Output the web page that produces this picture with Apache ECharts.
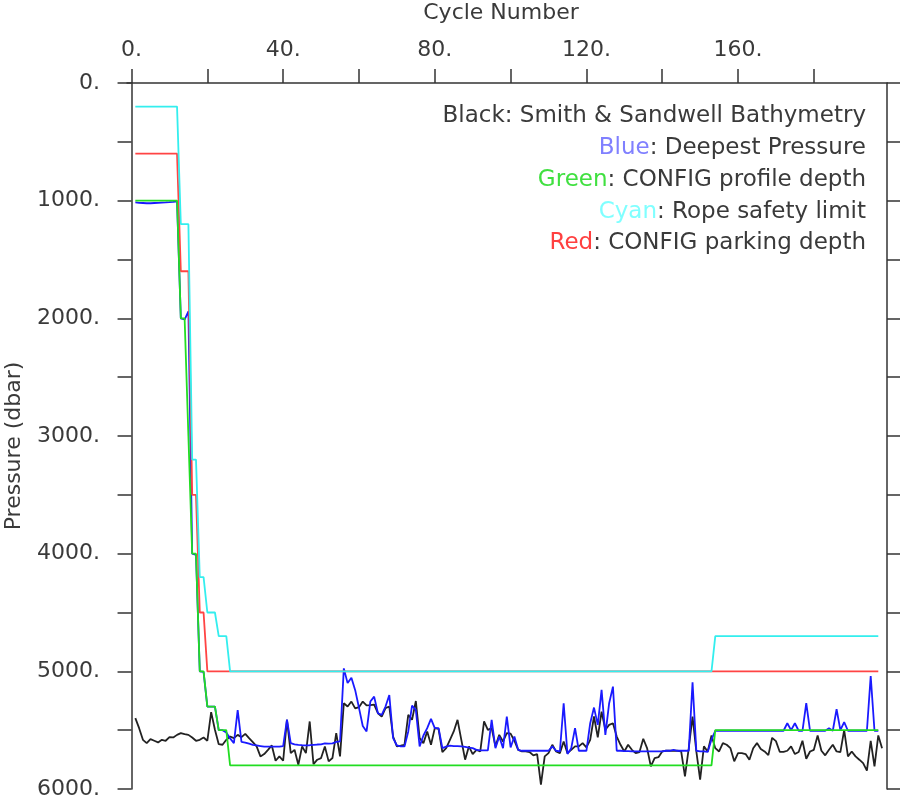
<!DOCTYPE html>
<html><head><meta charset="utf-8">
<script src="https://cdn.jsdelivr.net/npm/echarts@6/dist/echarts.min.js"></script>
<style>html,body{margin:0;padding:0;background:#fff}#c{width:900px;height:800px}</style>
</head><body><div id="c"></div><script>
// Tick labels
const xTickValues = [0, 20, 40, 60, 80, 100, 120, 140, 160, 180];
const xLabelValues = [0, 40, 80, 120, 160];
const yTickValues = [0, 500, 1000, 1500, 2000, 2500, 3000, 3500, 4000, 4500, 5000, 5500, 6000];
const yLabelValues = [0, 1000, 2000, 3000, 4000, 5000, 6000];

// Deepest pressure (blue), cycles 1..197
const bluePressure = [
 1015,1018,1020,1022,1022,1020,1018,1016,1015,1013,1010,1005,
 2000,2010,1940,4000,4010,5000,5005,5300,5300,5300,5500,5500,5520,
 5570,5610,5330,5600,5605,5615,5625,5630,5635,5640,5640,5640,5640,5640,5635,
 5410,5610,5620,5625,5628,5630,5628,5625,5622,5620,5612,5615,5612,5600,5596,
 4975,5100,5055,5160,5310,5465,5511,5257,5215,5356,5370,5299,5201,5568,5630,
 5638,5638,5511,5291,5328,5638,5545,5483,5404,5483,5483,5653,5640,5632,5635,
 5635,5638,5642,5648,5653,5667,5672,5672,5672,5412,5653,5554,5653,5384,5647,
 5554,5667,5675,5675,5675,5675,5675,5675,5675,5675,5638,5675,5681,5271,5703,
 5653,5483,5675,5675,5675,5441,5308,5455,5158,5540,5271,5130,5675,5675,5678,
 5678,5680,5680,5681,5681,5681,5681,5681,5681,5681,5675,5675,5667,5675,5675,
 5675,5675,5093,5675,5681,5681,5685,5580,5505,5505,5505,5505,5505,5505,5505,
 5505,5505,5505,5505,5505,5505,5505,5505,5505,5505,5505,5505,5441,5500,5441,
 5505,5505,5271,5505,5505,5505,5505,5505,5483,5505,5322,5500,5432,5505,5505,
 5505,5505,5505,5505,5040,5505,5505
];

// Smith & Sandwell bathymetry (black), cycles 1..198
const bathymetry = [
 5398,5483,5582,5610,5576,5590,5604,5582,5590,5559,5562,5540,5525,5534,5540,
 5562,5590,5582,5562,5590,5347,5497,5619,5624,5582,5554,5568,5540,5559,5531,
 5568,5602,5638,5723,5703,5667,5630,5760,5723,5760,5412,5695,5667,5794,5638,
 5695,5426,5788,5751,5737,5638,5765,5737,5525,5723,5271,5299,5257,5315,5305,
 5257,5290,5288,5283,5356,5384,5313,5299,5554,5638,5632,5624,5370,5412,5252,
 5568,5610,5511,5624,5483,5490,5686,5653,5582,5511,5412,5582,5751,5638,5703,
 5667,5681,5426,5497,5483,5638,5540,5596,5525,5530,5590,5667,5681,5681,5686,
 5714,5703,5963,5723,5695,5624,5681,5695,5596,5695,5667,5638,5638,5610,5647,
 5582,5384,5562,5342,5497,5455,5441,5554,5624,5681,5624,5667,5695,5686,5573,
 5652,5808,5737,5730,5681,5675,5675,5675,5675,5681,5892,5653,5384,5681,5921,
 5638,5681,5545,5653,5681,5610,5624,5653,5765,5695,5695,5703,5751,5653,5610,
 5660,5681,5712,5565,5593,5684,5685,5675,5638,5703,5686,5590,5743,5681,5667,
 5545,5675,5714,5667,5624,5681,5686,5500,5723,5681,5723,5751,5780,5844,5590,
 5808,5545,5653
];

// CONFIG profile depth (green): [cycle, pressure] breakpoints
const profileDepth = [[1,1000],[12,1000],[13,2000],[14,2000],[15,3000],[16,4000],[17,4000],[18,5000],[19,5000],[20,5300],[22,5300],[23,5500],[25,5500],[26,5800],[153,5800],[154,5500],[197,5500]];
// Rope safety limit (cyan)
const ropeLimit = [[1,200],[12,200],[13,1200],[15,1200],[16,3200],[17,3200],[18,4200],[19,4200],[20,4500],[22,4500],[23,4700],[25,4700],[26,5000],[153,5000],[154,4700],[197,4700]];
// CONFIG parking depth (red)
const parkingDepth = [[1,600],[12,600],[13,1600],[15,1600],[16,3500],[17,3500],[18,4500],[19,4500],[20,5000],[197,5000]];

const FONT = 'DejaVu Sans';
const TXT = '#3a3a3a';
const chart = echarts.init(document.getElementById('c'), null, {renderer: 'canvas'});

const toPairs = arr => arr.map((v, i) => [i + 1, v]);

function legendLine(y, key, color, rest) {
  return {
    type: 'text', x: 866, y: y, z: 100,
    style: {
      text: '{k|' + key + '}' + rest,
      rich: { k: { fill: color, fontSize: 23, fontFamily: FONT } },
      fill: TXT, fontSize: 23, fontFamily: FONT,
      align: 'right', textAlign: 'right',
      verticalAlign: 'middle', textVerticalAlign: 'middle'
    }
  };
}

const yCommon = {
  type: 'value', min: 0, max: 6000, inverse: true,
  splitLine: { show: false },
  axisLine: { show: true, lineStyle: { color: '#333', width: 1.5 } },
  axisTick: { show: true, inside: false, length: 14, customValues: yTickValues, lineStyle: { color: '#333', width: 1.5 } }
};

chart.setOption({
  animation: false,
  backgroundColor: '#fff',
  grid: { left: 127, top: 83, width: 760, height: 707 },
  xAxis: {
    type: 'value', position: 'top', min: -1.2, max: 199.3,
    splitLine: { show: false },
    axisLine: { show: true, lineStyle: { color: '#333', width: 1.5 } },
    axisTick: { show: true, inside: false, length: 14, customValues: xTickValues, lineStyle: { color: '#333', width: 1.5 } },
    axisLabel: { customValues: xLabelValues, formatter: v => v + '.', color: TXT, fontSize: 22, fontFamily: FONT, margin: 22 }
  },
  yAxis: [
    Object.assign({}, yCommon, {
      position: 'left',
      axisLabel: { show: true, customValues: yLabelValues, formatter: v => v + '.', color: TXT, fontSize: 22, fontFamily: FONT, margin: 27 }
    }),
    Object.assign({}, yCommon, {
      position: 'right',
      axisLabel: { show: false }
    })
  ],
  graphic: [
    { type: 'text', x: 501, y: 13, style: { text: 'Cycle Number', fill: TXT, fontSize: 22, fontFamily: FONT, align: 'center', textAlign: 'center', verticalAlign: 'middle', textVerticalAlign: 'middle' } },
    { type: 'text', x: 14, y: 446, rotation: Math.PI / 2, style: { text: 'Pressure (dbar)', fill: TXT, fontSize: 22, fontFamily: FONT, align: 'center', textAlign: 'center', verticalAlign: 'middle', textVerticalAlign: 'middle' } },
    legendLine(116, 'Black', TXT, ': Smith & Sandwell Bathymetry'),
    legendLine(148, 'Blue', '#8080ff', ': Deepest Pressure'),
    legendLine(180, 'Green', '#40e040', ': CONFIG profile depth'),
    legendLine(212, 'Cyan', '#80ffff', ': Rope safety limit'),
    legendLine(243, 'Red', '#ff4040', ': CONFIG parking depth')
  ],
  series: [
    { name: 'Bathymetry', type: 'line', data: toPairs(bathymetry), showSymbol: false, symbol: 'none', lineStyle: { color: '#222', width: 1.8 }, z: 2 },
    { name: 'Deepest Pressure', type: 'line', data: toPairs(bluePressure), showSymbol: false, symbol: 'none', lineStyle: { color: '#1a1aff', width: 1.8 }, z: 3 },
    { name: 'Parking depth', type: 'line', data: parkingDepth, showSymbol: false, symbol: 'none', lineStyle: { color: '#ff4444', width: 1.8 }, z: 4 },
    { name: 'Profile depth', type: 'line', data: profileDepth, showSymbol: false, symbol: 'none', lineStyle: { color: '#22dd22', width: 1.8 }, z: 5 },
    { name: 'Rope limit', type: 'line', data: ropeLimit, showSymbol: false, symbol: 'none', lineStyle: { color: '#33eeee', width: 1.8 }, z: 6 }
  ]
});
</script></body></html>
